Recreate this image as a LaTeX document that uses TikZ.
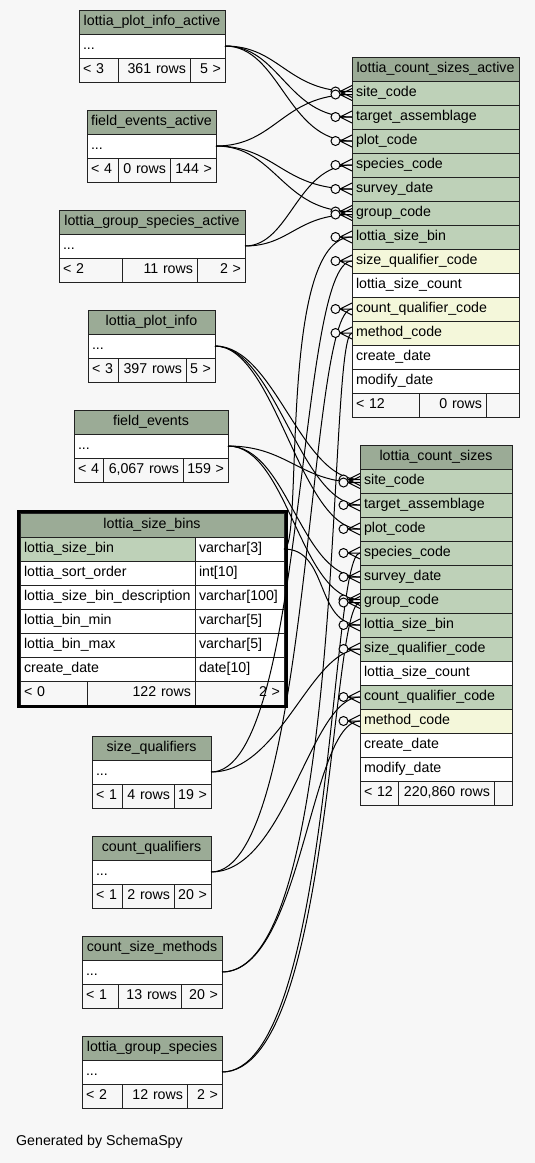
\documentclass[tikz,border=0pt]{standalone}
\usepackage{fontspec}
\setmainfont{Liberation Sans}
\definecolor{bgc}{HTML}{F7F7F7}
\definecolor{headc}{HTML}{9BAB96}
\definecolor{keyc}{HTML}{BED1B8}
\definecolor{optc}{HTML}{F4F7DA}
\definecolor{linec}{HTML}{222222}
\newcommand{\tfont}{\fontsize{14.2pt}{17pt}\selectfont}

\begin{document}
\begin{tikzpicture}[x=1pt, y=-1pt,
  tcell/.style={draw=linec, line width=1pt, anchor=north west, outer sep=0pt,
    inner xsep=4pt, inner ysep=0pt, minimum height=24pt,
    text height=10.5pt, text depth=3pt, align=left, font=\tfont},
  headrow/.style={tcell, fill=headc, align=center},
  footl/.style={tcell, fill=bgc},
  footr/.style={tcell, fill=bgc, align=right},
  fk/.style={line width=1pt},
  crow/.pic={
    \draw[fk] (-12,0) -- (0,-6) (-12,0) -- (0,0) (-12,0) -- (0,6);
    \draw[fk, fill=bgc] (-16.5,0) circle (4.5pt);
  }
]
\fill[bgc] (0,0) rectangle (535,1163);
\useasboundingbox (0,0) rectangle (535,1163);

% lottia_plot_info_active
\node[headrow, text width=138pt] (pia) at (79,10) {lottia\_plot\_info\_active};
\node[tcell, fill=white, text width=138pt] (pia-dots) at (79,34) {...};
\node[footl, text width=31pt] (pia-f1) at (79,58) {< 3};
\node[footr, text width=64pt] (pia-f2) at (118,58) {361 rows};
\node[footr, text width=27pt] (pia-f3) at (190,58) {5 >};

% field_events_active
\node[headrow, text width=121pt] (fea) at (87,110) {field\_events\_active};
\node[tcell, fill=white, text width=121pt] (fea-dots) at (87,134) {...};
\node[footl, text width=23pt] (fea-f1) at (87,158) {< 4};
\node[footr, text width=44pt] (fea-f2) at (118,158) {0 rows};
\node[footr, text width=38pt] (fea-f3) at (170,158) {144 >};

% lottia_group_species_active
\node[headrow, text width=178pt] (gsa) at (59,210) {lottia\_group\_species\_active};
\node[tcell, fill=white, text width=178pt] (gsa-dots) at (59,234) {...};
\node[footl, text width=55pt] (gsa-f1) at (59,258) {< 2};
\node[footr, text width=67pt] (gsa-f2) at (122,258) {11 rows};
\node[footr, text width=40pt] (gsa-f3) at (197,258) {2 >};

% lottia_count_sizes_active
\node[headrow, text width=159pt] (csa) at (352,57) {lottia\_count\_sizes\_active};
\foreach \nm/\txt/\fl [count=\i from 0] in {
    site/site\_code/keyc, target/target\_assemblage/keyc, plot/plot\_code/keyc,
    species/species\_code/keyc, survey/survey\_date/keyc, group/group\_code/keyc,
    sizebin/lottia\_size\_bin/keyc, sizequal/size\_qualifier\_code/optc,
    sizecount/lottia\_size\_count/white, countqual/count\_qualifier\_code/optc,
    method/method\_code/optc, create/create\_date/white, modify/modify\_date/white}
  \node[tcell, fill=\fl, text width=159pt] (csa-\nm) at (352,{81+24*\i}) {\txt};
\node[footl, text width=59pt] (csa-f1) at (352,393) {< 12};
\node[footr, text width=59pt] (csa-f2) at (419,393) {0 rows};
\node[footr, text width=25pt] (csa-f3) at (486,393) {};

% lottia_plot_info
\node[headrow, text width=119pt] (pi) at (88,310) {lottia\_plot\_info};
\node[tcell, fill=white, text width=119pt] (pi-dots) at (88,334) {...};
\node[footl, text width=22pt] (pi-f1) at (88,358) {< 3};
\node[footr, text width=60pt] (pi-f2) at (118,358) {397 rows};
\node[footr, text width=21pt] (pi-f3) at (186,358) {5 >};

% field_events
\node[headrow, text width=146pt] (fe) at (74,410) {field\_events};
\node[tcell, fill=white, text width=146pt] (fe-dots) at (74,434) {...};
\node[footl, text width=21pt] (fe-f1) at (74,458) {< 4};
\node[footr, text width=72pt] (fe-f2) at (103,458) {6,067 rows};
\node[footr, text width=37pt] (fe-f3) at (183,458) {159 >};

% lottia_size_bins (the selected table)
\node[headrow, text width=256pt] (sb) at (20,513) {lottia\_size\_bins};
\foreach \nm/\txt/\typ/\fl [count=\i from 0] in {
    bin/lottia\_size\_bin/varchar[3]/keyc, sort/lottia\_sort\_order/int[10]/white,
    desc/lottia\_size\_bin\_description/varchar[100]/white,
    min/lottia\_bin\_min/varchar[5]/white, max/lottia\_bin\_max/varchar[5]/white,
    create/create\_date/date[10]/white}
{
  \node[tcell, fill=\fl, text width=167pt] (sb-\nm) at (20,{537+24*\i}) {\txt};
  \node[tcell, fill=white, text width=81pt] (sb-\nm-t) at (195,{537+24*\i}) {\typ};
}
\node[footl, text width=59pt] (sb-f1) at (20,681) {< 0};
\node[footr, text width=100pt] (sb-f2) at (87,681) {122 rows};
\node[footr, text width=81pt] (sb-f3) at (195,681) {2 >};
\draw[black, line width=3pt] (18,511.5) rectangle (286,706.5);

% lottia_count_sizes
\node[headrow, text width=144pt] (cs) at (360,445) {lottia\_count\_sizes};
\foreach \nm/\txt/\fl [count=\i from 0] in {
    site/site\_code/keyc, target/target\_assemblage/keyc, plot/plot\_code/keyc,
    species/species\_code/keyc, survey/survey\_date/keyc, group/group\_code/keyc,
    sizebin/lottia\_size\_bin/keyc, sizequal/size\_qualifier\_code/keyc,
    sizecount/lottia\_size\_count/white, countqual/count\_qualifier\_code/keyc,
    method/method\_code/optc, create/create\_date/white, modify/modify\_date/white}
  \node[tcell, fill=\fl, text width=144pt] (cs-\nm) at (360,{469+24*\i}) {\txt};
\node[footl, text width=30pt] (cs-f1) at (360,781) {< 12};
\node[footr, text width=88pt] (cs-f2) at (398,781) {220,860 rows};
\node[footr, text width=10pt] (cs-f3) at (494,781) {};

% size_qualifiers
\node[headrow, text width=111pt] (sq) at (92,736) {size\_qualifiers};
\node[tcell, fill=white, text width=111pt] (sq-dots) at (92,760) {...};
\node[footl, text width=22pt] (sq-f1) at (92,784) {< 1};
\node[footr, text width=44pt] (sq-f2) at (122,784) {4 rows};
\node[footr, text width=29pt] (sq-f3) at (174,784) {19 >};

% count_qualifiers
\node[headrow, text width=111pt] (cq) at (92,836) {count\_qualifiers};
\node[tcell, fill=white, text width=111pt] (cq-dots) at (92,860) {...};
\node[footl, text width=22pt] (cq-f1) at (92,884) {< 1};
\node[footr, text width=44pt] (cq-f2) at (122,884) {2 rows};
\node[footr, text width=29pt] (cq-f3) at (174,884) {20 >};

% count_size_methods
\node[headrow, text width=132pt] (csm) at (82,936) {count\_size\_methods};
\node[tcell, fill=white, text width=132pt] (csm-dots) at (82,960) {...};
\node[footl, text width=28pt] (csm-f1) at (82,984) {< 1};
\node[footr, text width=55pt] (csm-f2) at (118,984) {13 rows};
\node[footr, text width=33pt] (csm-f3) at (181,984) {20 >};

% lottia_group_species
\node[headrow, text width=132pt] (gs) at (82,1036) {lottia\_group\_species};
\node[tcell, fill=white, text width=132pt] (gs-dots) at (82,1060) {...};
\node[footl, text width=32pt] (gs-f1) at (82,1084) {< 2};
\node[footr, text width=57pt] (gs-f2) at (122,1084) {12 rows};
\node[footr, text width=27pt] (gs-f3) at (187,1084) {2 >};

\node[anchor=west, inner sep=0pt, font=\tfont] (gen) at (16,1142) {Generated by SchemaSpy};

% foreign keys into lottia_count_sizes_active
\draw[fk] (pia-dots.east) .. controls +(55,0) and +(-65,0) .. ([yshift=1.5pt]csa-site.west);
\draw[fk] (pia-dots.east) .. controls +(55,0) and +(-65,0) .. (csa-target.west);
\draw[fk] (pia-dots.east) .. controls +(55,0) and +(-65,0) .. (csa-plot.west);
\draw[fk] (fea-dots.east) .. controls +(60,0) and +(-70,0) .. ([yshift=-1.5pt]csa-site.west);
\draw[fk] (fea-dots.east) .. controls +(60,0) and +(-70,0) .. (csa-survey.west);
\draw[fk] (fea-dots.east) .. controls +(60,0) and +(-70,0) .. ([yshift=1.5pt]csa-group.west);
\draw[fk] (gsa-dots.east) .. controls +(45,0) and +(-55,0) .. (csa-species.west);
\draw[fk] (gsa-dots.east) .. controls +(45,0) and +(-55,0) .. ([yshift=-1.5pt]csa-group.west);
\draw[fk] (sb-bin-t.east) .. controls +(20,0) and +(-75,0) .. (csa-sizebin.west);
\draw[fk] (sq-dots.east) .. controls +(95,0) and +(-55,0) .. (csa-sizequal.west);
\draw[fk] (cq-dots.east) .. controls +(100,0) and +(-45,0) .. (csa-countqual.west);
\draw[fk] (csm-dots.east) .. controls +(125,0) and +(-25,0) .. (csa-method.west);

% foreign keys into lottia_count_sizes
\draw[fk] (pi-dots.east) .. controls +(60,0) and +(-60,0) .. ([yshift=1.5pt]cs-site.west);
\draw[fk] (pi-dots.east) .. controls +(60,0) and +(-60,0) .. (cs-target.west);
\draw[fk] (pi-dots.east) .. controls +(60,0) and +(-60,0) .. (cs-plot.west);
\draw[fk] (fe-dots.east) .. controls +(60,0) and +(-60,0) .. ([yshift=-1.5pt]cs-site.west);
\draw[fk] (fe-dots.east) .. controls +(60,0) and +(-60,0) .. (cs-survey.west);
\draw[fk] (fe-dots.east) .. controls +(60,0) and +(-60,0) .. ([yshift=1.5pt]cs-group.west);
\draw[fk] (sb-bin-t.east) .. controls +(45,0) and +(-45,0) .. (cs-sizebin.west);
\draw[fk] (sq-dots.east) .. controls +(70,0) and +(-50,0) .. (cs-sizequal.west);
\draw[fk] (cq-dots.east) .. controls +(75,0) and +(-50,0) .. (cs-countqual.west);
\draw[fk] (csm-dots.east) .. controls +(80,0) and +(-50,0) .. (cs-method.west);
\draw[fk] (gs-dots.east) .. controls +(110,0) and +(-30,0) .. (cs-species.west);
\draw[fk] (gs-dots.east) .. controls +(110,0) and +(-30,0) .. ([yshift=-1.5pt]cs-group.west);

% crow's feet
\foreach \p in {csa-target, csa-plot, csa-species, csa-survey, csa-sizebin,
    csa-sizequal, csa-countqual, csa-method, cs-target, cs-plot, cs-species,
    cs-survey, cs-sizebin, cs-sizequal, cs-countqual, cs-method}
  \pic at (\p.west) {crow};
\foreach \p/\s in {csa-site/1.5, csa-site/-1.5, csa-group/1.5, csa-group/-1.5,
    cs-site/1.5, cs-site/-1.5, cs-group/1.5, cs-group/-1.5}
  \pic at ([yshift=\s pt]\p.west) {crow};
\end{tikzpicture}
\end{document}
